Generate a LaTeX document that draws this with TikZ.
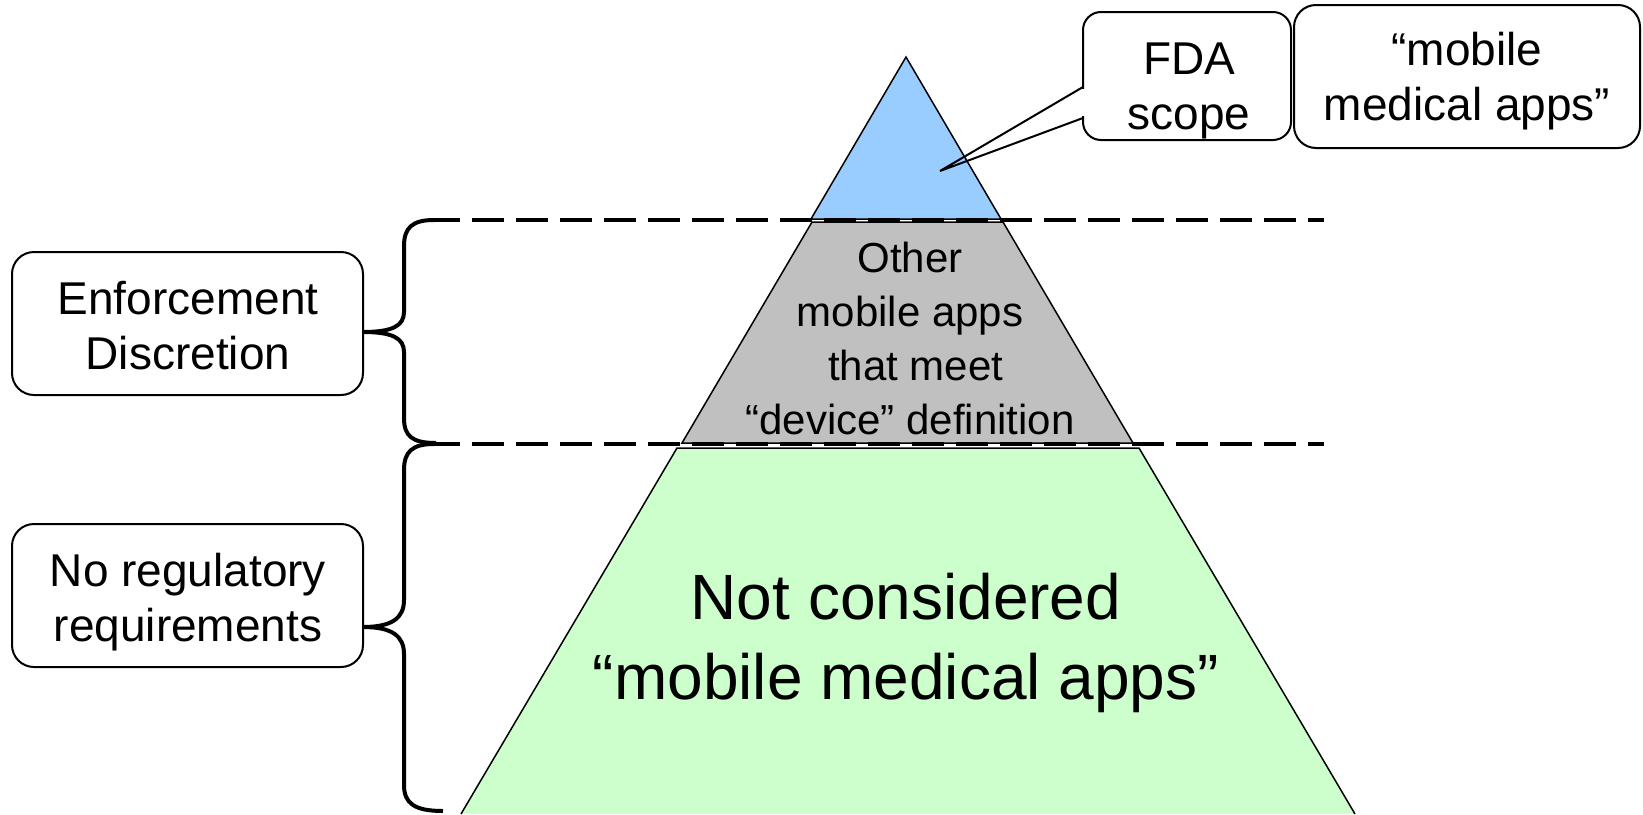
\documentclass[tikz,border=0pt]{standalone}
\usepackage{fontspec}
\setmainfont{Liberation Sans}
\definecolor{pblue}{HTML}{99CCFF}
\definecolor{pgray}{HTML}{C0C0C0}
\definecolor{pgreen}{HTML}{CCFFCC}
\begin{document}
\begin{tikzpicture}[x=1pt,y=-1pt,
  layer/.style={draw=black, line width=1.5pt, line join=miter},
  box/.style={draw=black, line width=2pt, rounded corners=22pt, fill=white, inner sep=0pt},
  lbl/.style={align=center, inner sep=0pt, font=\fontsize{46}{55}\selectfont},
  bracepath/.style={line width=4pt, line cap=butt},
  divider/.style={line width=4pt, dash pattern=on 32pt off 12pt}
]
\useasboundingbox (0,0) rectangle (1643,814);

% pyramid layers
\coordinate (apex) at (906,57);
\coordinate (bl) at (811,219);
\coordinate (br) at (1001,219);
\filldraw[layer, fill=pblue] (apex) -- (br) -- (bl) -- cycle;

\coordinate (gtl) at (812,222);
\coordinate (gtr) at (1003,222);
\coordinate (gbr) at (1133,443);
\coordinate (gbl) at (682,443);
\filldraw[layer, fill=pgray] (gtl) -- (gtr) -- (gbr) -- (gbl) -- cycle;

\coordinate (ntl) at (677,448);
\coordinate (ntr) at (1139,448);
\coordinate (nbr) at (1355,814);
\coordinate (nbl) at (461,814);
\fill[pgreen] (nbl) -- (ntl) -- (ntr) -- (nbr) -- cycle;
\draw[layer] (nbl) -- (ntl) -- (ntr) -- (nbr);

% dashed dividers
\coordinate (d1a) at (428,220);
\coordinate (d1b) at (1324,220);
\coordinate (d2a) at (428,444);
\coordinate (d2b) at (1324,444);
\draw[divider] (d1a) -- (d1b);
\draw[divider] (d2a) -- (d2b);

% label boxes
\node[box, minimum width=351pt, minimum height=143pt] (enf) at (187.5,323.5) {};
\node[box, minimum width=351pt, minimum height=143pt] (noreg) at (187.5,595.5) {};

% braces
\coordinate (ub1) at (434,220);
\coordinate (ubtip) at (363,332);
\coordinate (ub2) at (436,443);
\draw[bracepath] (ub1) .. controls (412,220) and (404,228) .. (404,246) -- (404,312)
  .. controls (404,326) and (392,332) .. (ubtip)
  .. controls (392,332) and (404,338) .. (404,352) -- (404,418)
  .. controls (404,436) and (412,443) .. (ub2);

\coordinate (lb1) at (434,444);
\coordinate (lbtip) at (363,627);
\coordinate (lb2) at (443,811);
\draw[bracepath] (lb1) .. controls (412,444) and (404,452) .. (404,470) -- (404,600)
  .. controls (404,618) and (392,627) .. (lbtip)
  .. controls (392,627) and (404,636) .. (404,654) -- (404,785)
  .. controls (404,803) and (414,811) .. (lb2);

% callout
\node[box, rounded corners=18pt, minimum width=208pt, minimum height=128pt] (fda) at (1187,76) {};
\fill[white] (1080.5,89) rectangle (1085.5,116);
\coordinate (ptip) at (940,171);
\coordinate (pa) at (1083,87);
\coordinate (pb) at (1083,118);
\draw[line width=2pt, line join=miter] (pa) -- (ptip) -- (pb);

\node[box, minimum width=346pt, minimum height=143pt] (mma) at (1467,76.5) {};

% texts
\node[lbl] (t1) at (188,326) {Enforcement\\Discretion};
\node[lbl] (t2) at (188,602) {No regulatory\\requirements};
\node[lbl] (t3) at (1189,91) {FDA\\scope};
\node[lbl] (t4) at (1467,81) {“mobile\\medical apps”};
\node[lbl, font=\fontsize{42}{54}\selectfont] (t5) at (910,338) {Other\\mobile apps\\\ that meet\\“device” definition};
\node[lbl, font=\fontsize{64}{80}\selectfont] (t6) at (906,643) {Not considered\\“mobile medical apps”};
\end{tikzpicture}
\end{document}
